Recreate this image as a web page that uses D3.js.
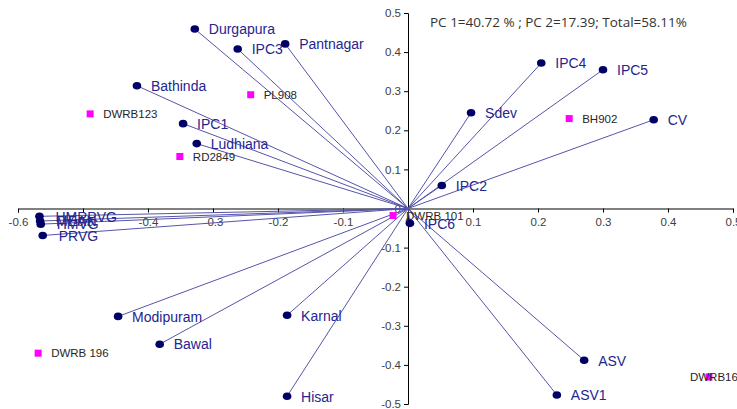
<!DOCTYPE html>
<html>
<head>
<meta charset="utf-8">
<script src="https://cdn.jsdelivr.net/npm/d3@7"></script>
<style>
    body { margin: 0; background: #fff; }
    svg { font-family: "Liberation Sans", Arial, sans-serif; }
    .axis path, .axis line { stroke: #000; }
    .axis text { fill: #404040; font-size: 11.5px; }
</style>
</head>
<body>
<div id="vis"></div>
<script>
'use strict';

// Variable loadings (PC1, PC2)
const varNames = ["Durgapura", "IPC3", "Pantnagar", "Bathinda", "IPC1", "Ludhiana",
    "HMRPVG", "MEAN", "HMVG", "PRVG", "Modipuram", "Bawal", "Karnal", "Hisar",
    "IPC6", "IPC2", "Sdev", "IPC4", "IPC5", "CV", "ASV", "ASV1"];
const varPC1 = [-0.328, -0.262, -0.189, -0.417, -0.346, -0.325,
    -0.567, -0.566, -0.565, -0.562, -0.446, -0.382, -0.186, -0.186,
    0.003, 0.052, 0.097, 0.205, 0.300, 0.378, 0.271, 0.229];
const varPC2 = [0.459, 0.408, 0.421, 0.314, 0.217, 0.166,
    -0.020, -0.032, -0.040, -0.069, -0.276, -0.347, -0.273, -0.480,
    -0.038, 0.059, 0.245, 0.372, 0.355, 0.227, -0.388, -0.477];

// Genotype scores (PC1, PC2)
const genoNames = ["DWRB123", "PL908", "RD2849", "BH902", "DWRB 101", "DWRB 196", "DWRB160"];
const genoPC1 = [-0.489, -0.242, -0.351, 0.248, -0.023, -0.569, 0.463];
const genoPC2 = [0.242, 0.291, 0.133, 0.230, -0.018, -0.370, -0.431];

const xTicks = [-0.6, -0.5, -0.4, -0.3, -0.2, -0.1, 0, 0.1, 0.2, 0.3, 0.4, 0.5];
const yTicks = [-0.5, -0.4, -0.3, -0.2, -0.1, 0, 0.1, 0.2, 0.3, 0.4, 0.5];
const titleText = "PC 1=40.72 % ; PC 2=17.39; Total=58.11%";

const size = { width: 737, height: 409 };

const x = d3.scaleLinear().domain([-0.6, 0.5]).range([18, 733]);
const y = d3.scaleLinear().domain([-0.5, 0.5]).range([404, 13]);

const svg = d3.select("#vis").append("svg")
    .attr("width", size.width)
    .attr("height", size.height);

// plain hyphen for negatives, like the original
const tickFmt = d => String(d);

// Axes crossing at the origin
svg.append("g")
    .attr("class", "axis")
    .attr("transform", "translate(0," + y(0) + ")")
    .call(d3.axisBottom(x).tickValues(xTicks).tickSize(4).tickSizeOuter(4)
        .tickFormat(tickFmt))
    .selectAll("text").attr("dy", "0.9em");

svg.append("g")
    .attr("class", "axis")
    .attr("transform", "translate(" + x(0) + ",0)")
    .call(d3.axisLeft(y).tickValues(yTicks).tickSize(4).tickSizeOuter(4)
        .tickFormat(tickFmt));

const vars = varNames.map((d, i) => ({ name: d, pc1: varPC1[i], pc2: varPC2[i] }));
const genos = genoNames.map((d, i) => ({ name: d, pc1: genoPC1[i], pc2: genoPC2[i] }));

// Vectors from origin
svg.append("g").selectAll("line")
    .data(vars)
    .enter()
    .append("line")
        .attr("x1", x(0))
        .attr("y1", y(0))
        .attr("x2", d => x(d.pc1))
        .attr("y2", d => y(d.pc2))
        .attr("stroke", "#5555aa")
        .attr("stroke-width", 1);

svg.append("g").selectAll("ellipse")
    .data(vars)
    .enter()
    .append("ellipse")
        .attr("cx", d => x(d.pc1))
        .attr("cy", d => y(d.pc2))
        .attr("rx", 4.3)
        .attr("ry", 3.8)
        .attr("fill", "#000066");

// Genotype markers
svg.append("g").selectAll("rect")
    .data(genos)
    .enter()
    .append("rect")
        .attr("x", d => x(d.pc1) - 3.5)
        .attr("y", d => y(d.pc2) - 3.5)
        .attr("width", 7)
        .attr("height", 7)
        .attr("fill", "#ff00ff");

svg.append("g").selectAll("text")
    .data(genos)
    .enter()
    .append("text")
        // labels that would run off the right edge are pulled back
        .attr("x", d => x(d.pc1) > 680 ? x(d.pc1) - 19 : x(d.pc1) + 13)
        .attr("y", d => y(d.pc2))
        .attr("dy", "0.35em")
        .style("font-size", "11.5px")
        .style("fill", "#262626")
        .text(d => d.name);

svg.append("g").selectAll("text")
    .data(vars)
    .enter()
    .append("text")
        .attr("x", d => x(d.pc1) + (d.pc1 < -0.5 ? 16 : 14))
        .attr("y", d => y(d.pc2))
        .attr("dy", "0.38em")
        .style("font-size", "14px")
        .style("fill", "#25258f")
        .text(d => d.name);

svg.append("text")
    .attr("x", 430)
    .attr("y", 27)
    .style("font-size", "13.5px")
    .style("fill", "#333")
    .style("font-family", "'Open Sans', sans-serif")
    .text(titleText);
</script>
</body>
</html>
